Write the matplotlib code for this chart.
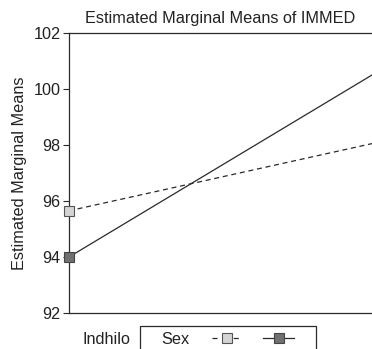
import matplotlib.pyplot as plt
from matplotlib.lines import Line2D
from matplotlib.patches import Rectangle

plt.rcParams['font.family'] = ['Liberation Sans', 'DejaVu Sans']

# Indhilo levels (only the first is fully visible; the line runs off the crop)
indhilo = [0, 1]
sex_1 = [95.65, 98.05]   # dashed, light square
sex_2 = [94.0, 100.5]    # solid, dark square
yticks = [92, 94, 96, 98, 100, 102]

fs = 11.7
txt_col = '#222222'
line_col = '#2a2a2a'

fig = plt.figure(figsize=(3.72, 3.49), dpi=100)
ax = fig.add_axes([69 / 372, 36 / 349, 1 - 69 / 372, 280 / 349])

ax.plot(indhilo, sex_1, '--', color=line_col, lw=0.9, dashes=(4, 3), zorder=2)
ax.plot(indhilo, sex_2, '-', color=line_col, lw=0.9, zorder=2)
ax.plot(indhilo[:1], sex_1[:1], 's', ms=7.5, mfc='#d4d4d4', mec='#555555', mew=0.8,
        clip_on=False, zorder=3)
ax.plot(indhilo[:1], sex_2[:1], 's', ms=7.5, mfc='#707070', mec='#444444', mew=0.8,
        clip_on=False, zorder=3)

ax.set_xlim(0, 1)
ax.set_ylim(92, 102)
ax.set_yticks(yticks)
ax.set_xticks([])
ax.tick_params(axis='y', direction='out', length=4, width=0.8, labelsize=fs,
               pad=2, color=line_col, labelcolor=txt_col)
for s in ['left', 'top', 'bottom']:
    ax.spines[s].set_linewidth(0.9)
    ax.spines[s].set_color(line_col)
ax.spines['right'].set_visible(False)

ax.set_title('Estimated Marginal Means of IMMED', fontsize=fs, pad=7, color=txt_col)
ax.set_ylabel('Estimated Marginal Means', fontsize=fs, labelpad=5, color=txt_col)

fig.text(83 / 372, 1 - 339 / 349, 'Indhilo', fontsize=fs, va='center', color=txt_col)

# legend box drawn by hand, the entries by the legend itself
fig.patches.append(Rectangle((139.5 / 372, -0.05), (316 - 139.5) / 372, 0.05 + 1 - 326 / 349,
                             transform=fig.transFigure, fill=False, ec=line_col, lw=0.9))
h1 = Line2D([], [], ls='--', dashes=(4, 4.5), color=line_col, lw=0.9, marker='s', ms=7.5,
            mfc='#d4d4d4', mec='#555555', mew=0.8)
h2 = Line2D([], [], ls='-', color=line_col, lw=0.9, marker='s', ms=7.5,
            mfc='#707070', mec='#444444', mew=0.8)
leg = fig.legend([h1, h2], ['Sex', ''], loc='center left',
                 bbox_to_anchor=(161 / 372, 1 - 339 / 349), ncol=2, markerfirst=False,
                 frameon=False, fontsize=fs, handlelength=1.9, labelcolor=txt_col,
                 handletextpad=1.4, columnspacing=-0.15, borderpad=0, borderaxespad=0)

fig.savefig('out.png', dpi=100)
